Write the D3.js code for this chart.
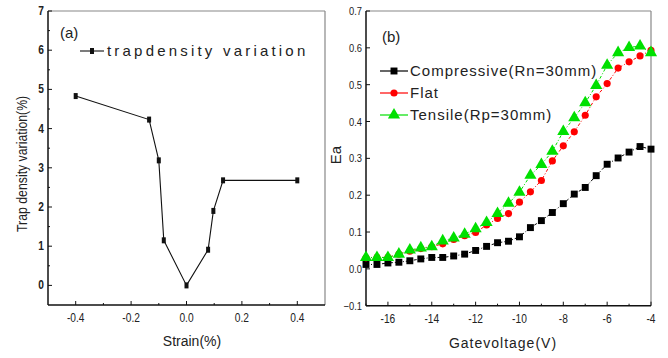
<!DOCTYPE html>
<html>
<head>
<meta charset="utf-8">
<script src="https://cdn.jsdelivr.net/npm/d3@7"></script>
<style>
  body { margin: 0; background: #fff; }
  svg { display: block; }
  text { font-family: "Liberation Sans", Arial, sans-serif; fill: #222; }
</style>
</head>
<body>
<div id="chart"></div>
<script>
// panel (a) data
const strain = [-0.4, -0.135, -0.1, -0.082, 0, 0.078, 0.097, 0.132, 0.4];
const trapVar = [4.83, 4.23, 3.19, 1.15, 0, 0.91, 1.9, 2.68, 2.68];
const strainTicks = [-0.4, -0.2, 0, 0.2, 0.4];
const strainTickLabels = ['-0.4', '-0.2', '0.0', '0.2', '0.4'];
const trapTicks = [0, 1, 2, 3, 4, 5, 6, 7];

// panel (b) data
const gateV = [-17, -16.5, -16, -15.5, -15, -14.5, -14, -13.5, -13, -12.5, -12, -11.5, -11, -10.5,
  -10, -9.5, -9, -8.5, -8, -7.5, -7, -6.5, -6, -5.5, -5, -4.5, -4];
const compressive = [0.012, 0.012, 0.016, 0.018, 0.022, 0.027, 0.031, 0.031, 0.035, 0.04, 0.05, 0.061, 0.071, 0.075,
  0.087, 0.112, 0.131, 0.153, 0.177, 0.203, 0.221, 0.253, 0.284, 0.301, 0.317, 0.332, 0.325];
const flat = [0.03, 0.031, 0.031, 0.04, 0.048, 0.055, 0.06, 0.068, 0.08, 0.09, 0.099, 0.119, 0.137, 0.15,
  0.181, 0.209, 0.24, 0.293, 0.334, 0.372, 0.417, 0.467, 0.503, 0.545, 0.562, 0.578, 0.593];
const tensile = [0.031, 0.031, 0.031, 0.04, 0.051, 0.057, 0.06, 0.076, 0.084, 0.094, 0.109, 0.126, 0.15, 0.178,
  0.208, 0.254, 0.283, 0.319, 0.373, 0.41, 0.451, 0.498, 0.553, 0.587, 0.601, 0.605, 0.587];
const gateTicks = [-16, -14, -12, -10, -8, -6, -4];
const eaTicks = [-0.1, 0, 0.1, 0.2, 0.3, 0.4, 0.5, 0.6, 0.7];
const seriesNames = ['Compressive(Rn=30mm)', 'Flat', 'Tensile(Rp=30mm)'];
const seriesColors = ['#000000', '#ff0000', '#00e000'];

const svg = d3.select('#chart').append('svg')
  .attr('width', 668)
  .attr('height', 358);

// draws frame with inward ticks
const drawFrame = (g, x, y, xTicks, xMinor, yTicks, yMinor, xFmt, yFmt, yBold) => {
  const [x0, x1] = x.range();
  const [y0, y1] = y.range();
  g.append('line').attr('x1', x0).attr('x2', x1).attr('y1', y1).attr('y2', y1).attr('stroke', '#888').attr('stroke-width', 1.2);
  g.append('line').attr('x1', x1).attr('x2', x1).attr('y1', y0).attr('y2', y1).attr('stroke', '#888').attr('stroke-width', 1.2);
  g.append('line').attr('x1', x0).attr('x2', x1).attr('y1', y0).attr('y2', y0).attr('stroke', '#111').attr('stroke-width', 1.5);
  g.append('line').attr('x1', x0).attr('x2', x0).attr('y1', y0).attr('y2', y1).attr('stroke', '#111').attr('stroke-width', 1.5);

  g.selectAll('.xt').data(xTicks).join('line')
    .attr('x1', d => x(d)).attr('x2', d => x(d))
    .attr('y1', y0).attr('y2', y0 - 4).attr('stroke', '#111');
  g.selectAll('.xm').data(xMinor).join('line')
    .attr('x1', d => x(d)).attr('x2', d => x(d))
    .attr('y1', y0).attr('y2', y0 - 2).attr('stroke', '#111');
  g.selectAll('.yt').data(yTicks).join('line')
    .attr('x1', x0).attr('x2', x0 + 4)
    .attr('y1', d => y(d)).attr('y2', d => y(d)).attr('stroke', '#111');
  g.selectAll('.ym').data(yMinor).join('line')
    .attr('x1', x0).attr('x2', x0 + 2)
    .attr('y1', d => y(d)).attr('y2', d => y(d)).attr('stroke', '#111');

  // tick labels are squeezed horizontally like the condensed face in the original
  g.selectAll('.xl').data(xTicks).join('text')
    .attr('transform', d => `translate(${x(d)},${y0 + 17}) scale(0.85,1)`)
    .attr('text-anchor', 'middle')
    .attr('font-size', 12)
    .text(xFmt);
  g.selectAll('.yl').data(yTicks).join('text')
    .attr('transform', d => `translate(${x0 - 4},${y(d) + 4}) scale(0.85,1)`)
    .attr('text-anchor', 'end')
    .attr('font-size', yBold ? 12 : 11)
    .attr('font-weight', yBold ? 'bold' : 'normal')
    .text(yFmt);
};

// ---------- panel (a)
const xa = d3.scaleLinear().domain([-0.5, 0.5]).range([48, 325]);
const ya = d3.scaleLinear().domain([-0.5, 7]).range([305, 11]);
const ga = svg.append('g');

drawFrame(ga, xa, ya, strainTicks, [-0.3, -0.1, 0.1, 0.3], trapTicks, [0.5, 1.5, 2.5, 3.5, 4.5, 5.5, 6.5],
  (d, i) => strainTickLabels[i], d => d, true);

const ptsA = strain.map((s, i) => [s, trapVar[i]]);
ga.append('path')
  .datum(ptsA)
  .attr('fill', 'none')
  .attr('stroke', '#111')
  .attr('stroke-width', 1.1)
  .attr('d', d3.line().x(d => xa(d[0])).y(d => ya(d[1])));
ga.selectAll('.mk').data(ptsA).join('rect')
  .attr('x', d => xa(d[0]) - 2).attr('y', d => ya(d[1]) - 3)
  .attr('width', 4).attr('height', 6)
  .attr('fill', '#111');

ga.append('text').attr('x', 60).attr('y', 38).attr('font-size', 15).text('(a)');
ga.append('line').attr('x1', 80).attr('x2', 104).attr('y1', 51).attr('y2', 51).attr('stroke', '#111').attr('stroke-width', 1.1);
ga.append('rect').attr('x', 90).attr('y', 48).attr('width', 4).attr('height', 6).attr('fill', '#111');
ga.append('text').attr('x', 107).attr('y', 56).attr('font-size', 15).attr('letter-spacing', 3.2)
  .text('trapdensity variation');

ga.append('text')
  .attr('transform', `translate(27,${ya(3.1)}) rotate(-90) scale(0.82,1)`)
  .attr('text-anchor', 'middle')
  .attr('font-size', 15)
  .text('Trap density variation(%)');
ga.append('text').attr('x', 192).attr('y', 346).attr('text-anchor', 'middle').attr('font-size', 14)
  .text('Strain(%)');

// ---------- panel (b)
const xb = d3.scaleLinear().domain([-17, -4]).range([366, 651]);
const yb = d3.scaleLinear().domain([-0.1, 0.7]).range([305.7, 11]);
const gb = svg.append('g');

drawFrame(gb, xb, yb, gateTicks, [-17, -15, -13, -11, -9, -7, -5], eaTicks, [],
  d => d, d => d3.format('.1f')(d), false);

const seriesData = [compressive, flat, tensile];
const lineB = d3.line().x(d => xb(d[0])).y(d => yb(d[1]));
const symbols = [d3.symbolSquare, d3.symbolCircle, d3.symbolTriangle];
const symSizes = [48, 40, 64];

seriesData.forEach((vals, k) => {
  const pts = gateV.map((v, i) => [v, vals[i]]);
  gb.append('path')
    .datum(pts)
    .attr('fill', 'none')
    .attr('stroke', seriesColors[k])
    .attr('stroke-width', 1)
    .attr('stroke-dasharray', '3,2,1,2')
    .attr('d', lineB);
  gb.selectAll(`.m${k}`).data(pts).join('path')
    .attr('transform', d => `translate(${xb(d[0])},${yb(d[1])})`)
    .attr('d', d3.symbol(symbols[k], symSizes[k]))
    .attr('fill', seriesColors[k]);
});

gb.append('text').attr('x', 382).attr('y', 42).attr('font-size', 15).text('(b)');

const legY = [71, 93, 115];
seriesNames.forEach((name, k) => {
  gb.append('line').attr('x1', 380).attr('x2', 408).attr('y1', legY[k]).attr('y2', legY[k])
    .attr('stroke', seriesColors[k]).attr('stroke-width', 1.2);
  gb.append('path')
    .attr('transform', `translate(394,${legY[k]})`)
    .attr('d', d3.symbol(symbols[k], symSizes[k]))
    .attr('fill', seriesColors[k]);
  gb.append('text').attr('x', 410).attr('y', legY[k] + 5).attr('font-size', 15).attr('letter-spacing', 1.0)
    .text(name);
});

gb.append('text')
  .attr('transform', `translate(341,155) rotate(-90)`)
  .attr('text-anchor', 'middle')
  .attr('font-size', 15)
  .text('Ea');
gb.append('text').attr('x', 503).attr('y', 348).attr('text-anchor', 'middle').attr('font-size', 14)
  .attr('letter-spacing', 1)
  .text('Gatevoltage(V)');
</script>
</body>
</html>
